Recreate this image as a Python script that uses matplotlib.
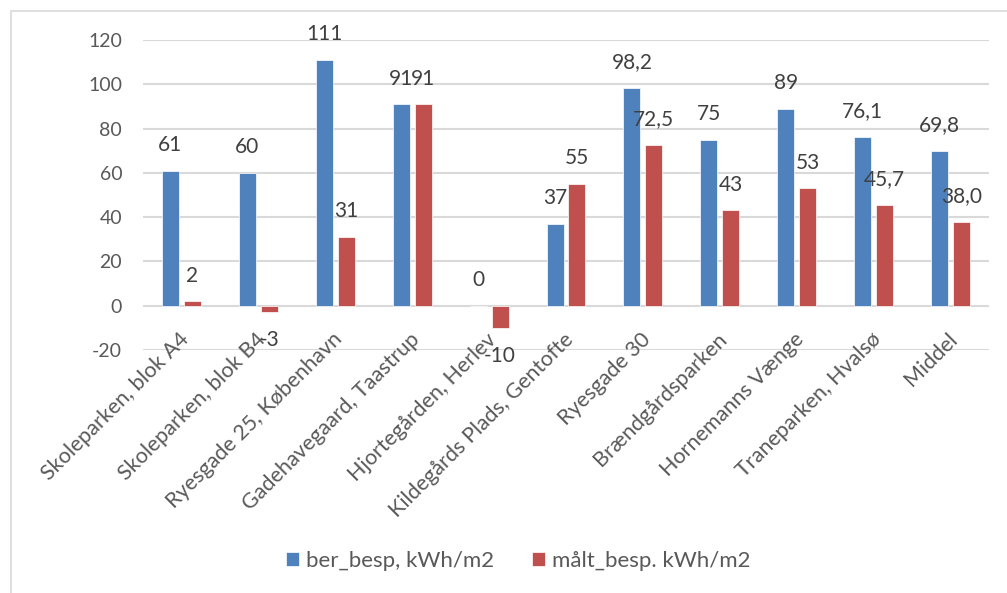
import numpy as np
import matplotlib
matplotlib.use("Agg")
from matplotlib import pyplot as plt
from matplotlib.patches import Rectangle

# DATA

categories = ["Skoleparken, blok A4", "Skoleparken, blok B4", "Ryesgade 25, København",
              "Gadehavegaard, Taastrup", "Hjortegården, Herlev", "Kildegårds Plads, Gentofte",
              "Ryesgade 30", "Brændgårdsparken", "Hornemanns Vænge", "Traneparken, Hvalsø",
              "Middel"]
ber_besp = [61, 60, 111, 91, 0, 37, 98.2, 75, 89, 76.1, 69.8]
maalt_besp = [2, -3, 31, 91, -10, 55, 72.5, 43, 53, 45.7, 38.0]
ber_labels = ["61", "60", "111", "91", "0", "37", "98,2", "75", "89", "76,1", "69,8"]
maalt_labels = ["2", "-3", "31", "91", "-10", "55", "72,5", "43", "53", "45,7", "38,0"]
series_names = ["ber_besp, kWh/m2", "målt_besp. kWh/m2"]
yticks = [-20, 0, 20, 40, 60, 80, 100, 120]

# STYLE

plt.rcParams['font.family'] = ['Lato', 'DejaVu Sans']
txt = '#595959'
blue = '#4F81BD'
red = '#C0504D'

fig = plt.figure(figsize=(10.07, 5.93), dpi=100)
W, H = 1007, 593
ax = fig.add_axes([143 / W, 1 - 350 / H, (989 - 143) / W, (350 - 40) / H])

# chart border
fig.patches.append(Rectangle((11 / W, -0.1), 1.2, 1 - 11 / H + 0.1, transform=fig.transFigure,
                             fill=False, edgecolor='#d9d9d9', linewidth=1.2))

x = np.arange(len(categories))
bw = 0.221
off = 0.143
b1 = ax.bar(x - off, ber_besp, bw, color=blue, edgecolor='white', linewidth=0.5,
            label=series_names[0], zorder=3)
b2 = ax.bar(x + off, maalt_besp, bw, color=red, edgecolor='white', linewidth=0.5,
            label=series_names[1], zorder=3)

# data labels
for bars, labs in ((b1, ber_labels), (b2, maalt_labels)):
    for bar, lab in zip(bars, labs):
        h = bar.get_height()
        dy = 18.5 if h >= 0 else -20
        ax.annotate(lab, (bar.get_x() + bar.get_width() / 2, h), xytext=(0, dy),
                    textcoords='offset points', ha='center', va='center',
                    fontsize=15, color='#404040', zorder=4)

ax.set_xlim(-0.5, len(categories) - 0.5)
ax.set_ylim(-20, 120)
ax.set_yticks(yticks)
ax.set_yticklabels([str(v) for v in yticks], fontsize=14, color=txt)
ax.tick_params(axis='y', length=0, pad=15)
ax.set_xticks([])
ax.grid(axis='y', color='#d9d9d9', linewidth=1.5, zorder=0)
ax.set_axisbelow(True)
for s in ax.spines.values():
    s.set_visible(False)

# category labels hang from the zero line
for xi, cat in zip(x, categories):
    ax.annotate(cat, (xi, 0), xytext=(3, -22), textcoords='offset points',
                rotation=45, rotation_mode='anchor', ha='right', va='center',
                fontsize=15.5, color=txt)

ax.legend(loc='center', bbox_to_anchor=(518 / W, 1 - 561 / H), bbox_transform=fig.transFigure,
          ncol=2, frameon=False, fontsize=16, handlelength=0.6, handleheight=0.6,
          handletextpad=0.3, columnspacing=1.7, labelcolor=txt)

fig.savefig('out.png', dpi=100)
